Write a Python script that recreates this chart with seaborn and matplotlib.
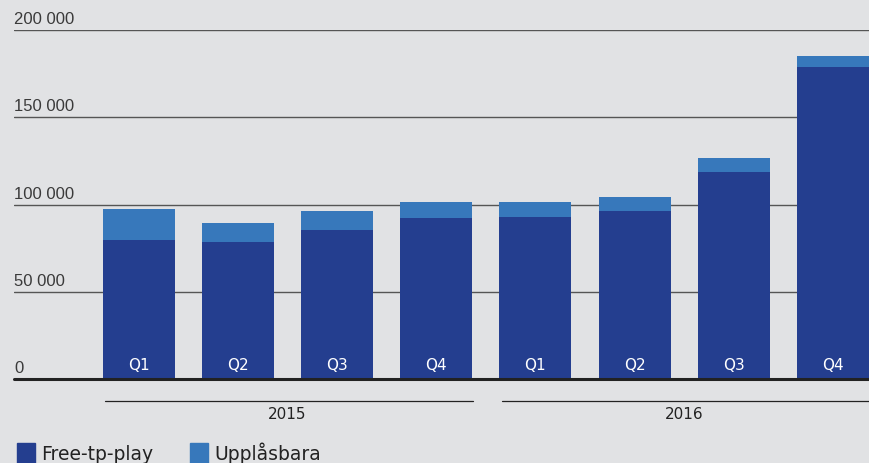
import matplotlib
matplotlib.use("Agg")
import matplotlib.pyplot as plt
import pandas as pd
import seaborn as sns
from matplotlib.patches import Rectangle

# Values
years = ["2015", "2015", "2015", "2015", "2016", "2016", "2016", "2016"]
quarters = ["Q1", "Q2", "Q3", "Q4", "Q1", "Q2", "Q3", "Q4"]
free_to_play = [79600, 78500, 85400, 92200, 92800, 96300, 118600, 178800]
upplasbara = [17800, 10900, 10900, 9200, 8600, 8000, 8000, 6200]
y_ticks = [0, 50000, 100000, 150000, 200000]
y_labels = ["0", "50 000", "100 000", "150 000", "200 000"]

DARK = "#243e8f"
LIGHT = "#3778bb"
BG = "#e1e2e4"
TXT = "#222222"
WIDE = dict(family="DejaVu Sans")

df = pd.DataFrame({
    "period": [f"{y} {q}" for y, q in zip(years, quarters)],
    "quarter": quarters,
    "year": years,
    "free": free_to_play,
    "total": [a + b for a, b in zip(free_to_play, upplasbara)],
})

sns.set_style("white")
plt.rcParams["font.family"] = ["Liberation Sans", "DejaVu Sans"]

fig = plt.figure(figsize=(8.69, 4.64), dpi=100, facecolor=BG)
ax = fig.add_axes([14 / 869, 84 / 464, 855 / 869, 349 / 464])
ax.set_facecolor(BG)

sns.barplot(data=df, x="period", y="total", color=LIGHT, width=0.727,
            saturation=1, linewidth=0, ax=ax, zorder=3)
sns.barplot(data=df, x="period", y="free", color=DARK, width=0.727,
            saturation=1, linewidth=0, ax=ax, zorder=3)

ax.set_xlim(-1.26, 7.365)
ax.set_ylim(0, 200000)
for s in ax.spines.values():
    s.set_visible(False)
ax.set_xticks([])
ax.set_yticks([])
ax.set_xlabel("")
ax.set_ylabel("")

# gridlines with labels sitting above them
for v, lab in zip(y_ticks, y_labels):
    if v == 0:
        ax.axhline(v, color="#222222", lw=2.2, zorder=4, clip_on=False)
    else:
        ax.axhline(v, color="#555555", lw=1.0, zorder=2)
    ax.text(-1.26, v + 2200, lab, fontsize=12, color="#3a3a3a",
            ha="left", va="bottom")

# quarter labels inside bars
for i, q in enumerate(quarters):
    ax.text(i, 8300, q, ha="center", va="center", color="white",
            fontsize=11, **WIDE)

# year brackets below axis
trans = ax.get_xaxis_transform()
for yr, (lo, hi) in {"2015": (0, 3), "2016": (4, 7)}.items():
    x0, x1 = lo - 0.34, hi + 0.37
    ax.plot([x0, x1], [-0.063, -0.063], color="#222222", lw=0.9,
            transform=trans, clip_on=False)
    ax.text((lo + hi) / 2, -0.100, yr, ha="center", va="center",
            transform=trans, fontsize=11, color=TXT, **WIDE)

# legend
for x0, lab, c in [(17, "Free-tp-play", DARK), (190, "Upplåsbara", LIGHT)]:
    fig.patches.append(Rectangle((x0 / 869, 0), 18 / 869, 20 / 464,
                                 color=c, transform=fig.transFigure))
    fig.text((x0 + 24) / 869, 4 / 464, lab, fontsize=13.5, color=TXT,
             va="baseline", ha="left", **WIDE)

fig.savefig("out.png", dpi=100, facecolor=BG)
